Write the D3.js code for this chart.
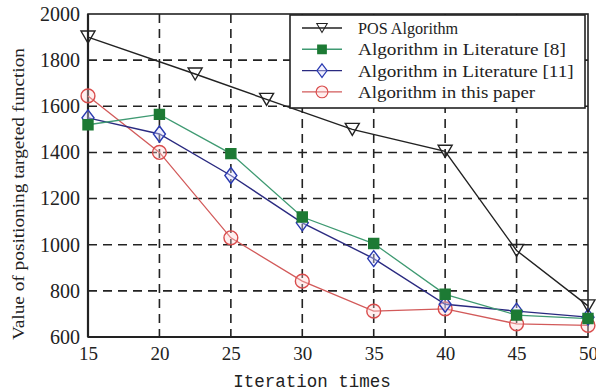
<!DOCTYPE html>
<html>
<head>
<meta charset="utf-8">
<script src="https://cdn.jsdelivr.net/npm/d3@7"></script>
<style>
body { margin: 0; background: #fff; }
svg { display: block; }
.serif { font-family: "Liberation Serif", "Times New Roman", serif; }
</style>
</head>
<body>
<svg id="chart" width="596" height="392"></svg>
<script>
var xTicks = [15, 20, 25, 30, 35, 40, 45, 50];
var yTicks = [600, 800, 1000, 1200, 1400, 1600, 1800, 2000];

// POS markers don't sit on the grid columns in the picture
var posX = [15, 22.5, 27.5, 33.5, 40, 45, 50];
var posY = [1900, 1740, 1630, 1500, 1405, 975, 735];

var iterX = [15, 20, 25, 30, 35, 40, 45, 50];
var lit8Y = [1520, 1565, 1395, 1120, 1005, 785, 695, 680];
var lit11Y = [1550, 1480, 1300, 1095, 940, 742, 712, 686];
var paperY = [1645, 1400, 1030, 842, 712, 722, 657, 650];

var seriesNames = ["POS Algorithm", "Algorithm in Literature [8]", "Algorithm in Literature [11]", "Algorithm in this paper"];

var svg = d3.select("#chart");
var x = d3.scaleLinear().domain([15, 50]).range([88, 588]);
var y = d3.scaleLinear().domain([600, 2000]).range([337, 14]);

// dashed grid
svg.append("g").selectAll("line")
    .data(xTicks.slice(1, -1))
    .enter().append("line")
    .attr("x1", function(d){ return x(d); })
    .attr("x2", function(d){ return x(d); })
    .attr("y1", y(2000))
    .attr("y2", y(600))
    .attr("stroke", "#222")
    .attr("stroke-width", 1.6)
    .attr("stroke-dasharray", "9,6");
svg.append("g").selectAll("line")
    .data(yTicks.slice(1, -1))
    .enter().append("line")
    .attr("x1", x(15))
    .attr("x2", x(50))
    .attr("y1", function(d){ return y(d); })
    .attr("y2", function(d){ return y(d); })
    .attr("stroke", "#222")
    .attr("stroke-width", 1.6)
    .attr("stroke-dasharray", "9,6");

// frame
svg.append("rect")
    .attr("x", x(15)).attr("y", y(2000))
    .attr("width", x(50) - x(15)).attr("height", y(600) - y(2000))
    .attr("fill", "none").attr("stroke", "#222").attr("stroke-width", 1.6);
svg.append("line")
    .attr("x1", x(15)).attr("x2", x(15)).attr("y1", y(2000)).attr("y2", y(600))
    .attr("stroke", "#222").attr("stroke-width", 2.2);
svg.append("line")
    .attr("x1", x(15)).attr("x2", x(50)).attr("y1", y(600)).attr("y2", y(600))
    .attr("stroke", "#222").attr("stroke-width", 2.2);

// axes
var xAxis = d3.axisBottom(x).tickValues(xTicks).tickSize(0).tickPadding(10).tickFormat(d3.format("d"));
var gx = svg.append("g").attr("transform", "translate(0," + y(600) + ")").call(xAxis);
gx.attr("font-family", null).attr("font-size", null);
gx.select(".domain").remove();
gx.selectAll("text")
    .attr("class", "serif")
    .style("font-size", "19px")
    .attr("fill", "#222");

var yAxis = d3.axisLeft(y).tickValues(yTicks).tickSize(0).tickPadding(8).tickFormat(d3.format("d"));
var gy = svg.append("g").attr("transform", "translate(" + x(15) + ",0)").call(yAxis);
gy.attr("font-family", null).attr("font-size", null);
gy.select(".domain").remove();
gy.selectAll("text")
    .attr("class", "serif")
    .style("font-size", "20px")
    .attr("fill", "#222");

svg.append("text")
    .attr("x", 312).attr("y", 387)
    .attr("text-anchor", "middle")
    .attr("font-family", "Liberation Mono")
    .attr("font-size", 17.5)
    .attr("fill", "#222")
    .text("Iteration times");

svg.append("text")
    .attr("class", "serif")
    .attr("transform", "translate(24,194) rotate(-90)")
    .attr("text-anchor", "middle")
    .style("font-size", "17px")
    .attr("textLength", 292)
    .attr("lengthAdjust", "spacingAndGlyphs")
    .attr("fill", "#222")
    .text("Value of positioning targeted function");

var line = d3.line()
    .x(function(d){ return x(d[0]); })
    .y(function(d){ return y(d[1]); });

function drawSeries(xs, ys, color, lw, marker, fill, mcolor) {
    var pts = d3.zip(xs, ys);
    svg.append("path")
        .datum(pts)
        .attr("d", line)
        .attr("fill", "none")
        .attr("stroke", color)
        .attr("stroke-width", lw);
    svg.append("g").selectAll("path")
        .data(pts)
        .enter().append("path")
        .attr("transform", function(d){ return "translate(" + x(d[0]) + "," + y(d[1]) + ")"; })
        .attr("d", marker)
        .attr("fill", fill)
        .attr("stroke", mcolor)
        .attr("stroke-width", 1.4);
}

var tri = "M-7,-6L7,-6L0,6Z";
var sq = "M-5,-5L5,-5L5,5L-5,5Z";
var dia = "M0,-8L6,0L0,8L-6,0Z";
var circ = d3.symbol().type(d3.symbolCircle).size(150)();

drawSeries(iterX, paperY, "#d25a5a", 1.3, circ, "rgba(255,210,210,0.35)", "#d94c4c");
drawSeries(iterX, lit11Y, "#2a2a80", 1.4, dia, "rgba(220,220,255,0.4)", "#2a3ab0");
drawSeries(iterX, lit8Y, "#3f9a72", 1.3, sq, "#1d7a34", "#1d7a34");
drawSeries(posX, posY, "#222", 1.4, tri, "none", "#222");

// legend
var lg = svg.append("g");
lg.append("rect")
    .attr("x", 290).attr("y", 15)
    .attr("width", 295).attr("height", 93)
    .attr("fill", "#fff").attr("stroke", "#222").attr("stroke-width", 1.6);

var legendColors = ["#222", "#3f9a72", "#2a2a80", "#d25a5a"];
var legendMarkers = [tri, sq, dia, circ];
var legendFill = ["none", "#1d7a34", "rgba(220,220,255,0.4)", "rgba(255,210,210,0.35)"];
var legendStroke = ["#222", "#1d7a34", "#2a3ab0", "#d94c4c"];
var rows = lg.selectAll("g.row")
    .data(seriesNames)
    .enter().append("g")
    .attr("class", "row")
    .attr("transform", function(d, i){ return "translate(0," + (28 + i * 21.3) + ")"; });
rows.append("line")
    .attr("x1", 302).attr("x2", 342)
    .attr("stroke", function(d, i){ return legendColors[i]; })
    .attr("stroke-width", 1.4);
rows.append("path")
    .attr("transform", function(d, i){ return i == 0 ? "translate(322,0) scale(0.75)" : "translate(322,0) scale(0.85)"; })
    .attr("d", function(d, i){ return legendMarkers[i]; })
    .attr("fill", function(d, i){ return legendFill[i]; })
    .attr("stroke", function(d, i){ return legendStroke[i]; })
    .attr("stroke-width", 1.4);
rows.append("text")
    .attr("class", "serif")
    .attr("x", 358).attr("y", 6)
    .style("font-size", "16.5px")
    .attr("textLength", function(d){ return d.length * 7.7; })
    .attr("lengthAdjust", "spacingAndGlyphs")
    .attr("fill", "#222")
    .text(function(d){ return d; });
</script>
</body>
</html>
